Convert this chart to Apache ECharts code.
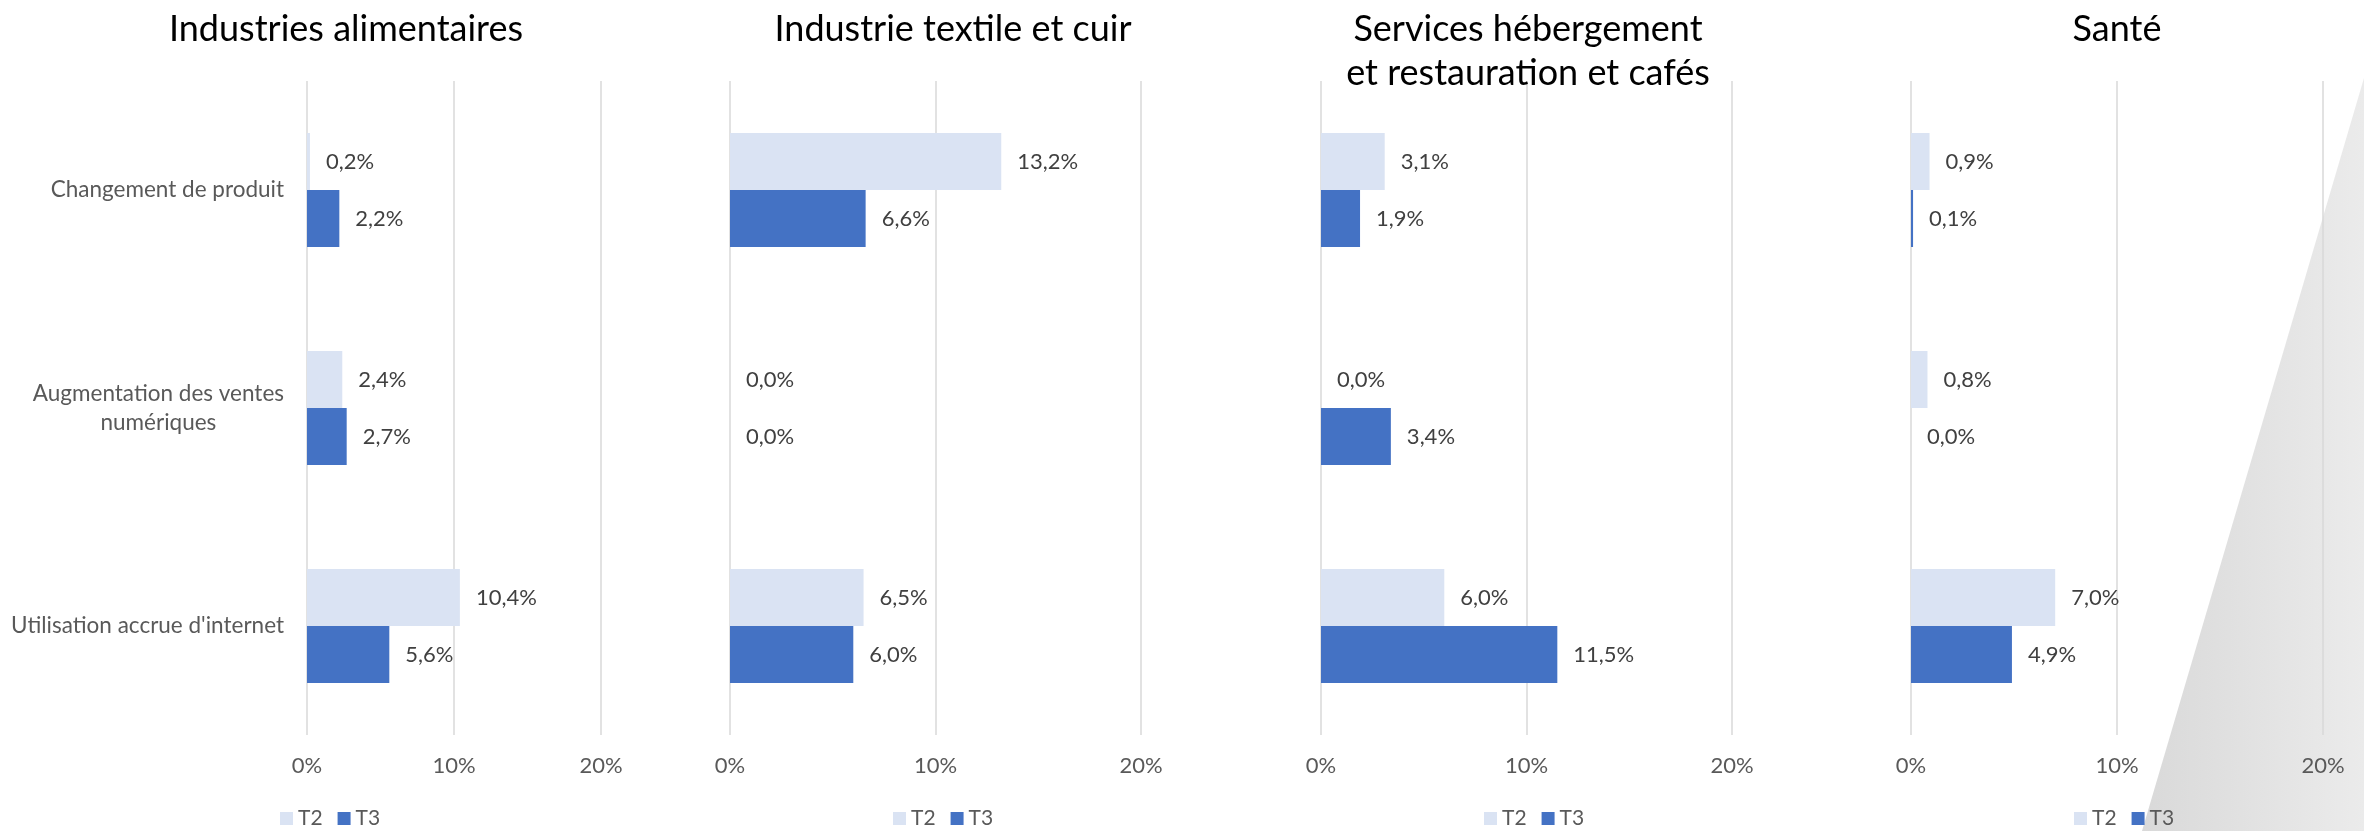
<!DOCTYPE html>
<html><head><meta charset="utf-8">
<script src="https://cdn.jsdelivr.net/npm/echarts@6/dist/echarts.min.js"></script>
<style>html,body{margin:0;padding:0;background:#fff;} #c{width:2364px;height:831px;}</style>
</head><body><div id="c"></div>
<script>
// ---- data ----
const categories = ['Changement de produit', 'Augmentation des ventes\nnumériques', "Utilisation accrue d'internet"];
const panelTitles = ['Industries alimentaires', 'Industrie textile et cuir', 'Services hébergement\net restauration et cafés', 'Santé'];
const seriesNames = ['T2', 'T3'];
const alimentairesT2 = [0.2, 2.4, 10.4];
const alimentairesT3 = [2.2, 2.7, 5.6];
const textileT2 = [13.2, 0.0, 6.5];
const textileT3 = [6.6, 0.0, 6.0];
const hebergementT2 = [3.1, 0.0, 6.0];
const hebergementT3 = [1.9, 3.4, 11.5];
const santeT2 = [0.9, 0.8, 7.0];
const santeT3 = [0.1, 0.0, 4.9];
const axisMin = 0, axisMax = 20, axisInterval = 10;

const panelData = [
  [alimentairesT2, alimentairesT3],
  [textileT2, textileT3],
  [hebergementT2, hebergementT3],
  [santeT2, santeT3]
];

// ---- layout / style ----
const FONT = 'Lato, "Open Sans", sans-serif';
const colors = ['#dae3f3', '#4472c4'];
const gridLefts = [307, 730, 1321, 1911];
const gridWidths = [294, 411, 411, 412];
const gridTop = 81, gridHeight = 654;
const titleCenters = [341, 948, 1523, 2112];
const legendLefts = [280, 893, 1484, 2074];

const fmt = v => v.toFixed(1).replace('.', ',') + '%';

const option = {
  backgroundColor: '#ffffff',
  animation: false,
  graphic: [{
    type: 'polygon', z: -10, silent: true,
    shape: { points: [[2364, 78], [2142, 831], [2364, 831]] },
    style: { fill: { type: 'linear', x: 0, y: 0, x2: 1, y2: 0,
      colorStops: [{ offset: 0, color: '#d9d9d9' }, { offset: 1, color: '#ebebeb' }] } }
  }],
  title: panelTitles.map((t, i) => ({
    text: t, left: titleCenters[i], top: 2, textAlign: 'center',
    textStyle: { fontFamily: FONT, fontSize: 36, fontWeight: 'normal', color: '#000000', lineHeight: 44 }
  })),
  legend: panelTitles.map((t, i) => ({
    data: seriesNames, left: legendLefts[i], top: 808, icon: 'rect',
    itemWidth: 13, itemHeight: 13, itemGap: 15, padding: 0,
    textStyle: { fontFamily: FONT, fontSize: 21, color: '#595959' }
  })),
  grid: panelTitles.map((t, i) => ({
    left: gridLefts[i], width: gridWidths[i], top: gridTop, height: gridHeight, containLabel: false
  })),
  xAxis: panelTitles.map((t, i) => ({
    type: 'value', gridIndex: i, min: axisMin, max: axisMax, interval: axisInterval,
    axisLine: { show: false }, axisTick: { show: false },
    splitLine: { show: true, lineStyle: { color: '#d9d9d9', width: 1.5 } },
    axisLabel: { formatter: '{value}%', fontFamily: FONT, fontSize: 22, color: '#595959', margin: 20 }
  })),
  yAxis: panelTitles.map((t, i) => ({
    type: 'category', gridIndex: i, data: categories, inverse: true,
    axisLine: { show: false }, axisTick: { show: false }, splitLine: { show: false },
    axisLabel: {
      show: i === 0, margin: 23,
      formatter: v => v.split('\n').map(s => '{c|' + s + '}').join('\n'),
      rich: { c: { align: 'center', fontFamily: FONT, fontSize: 22.5, color: '#595959', lineHeight: 29 } }
    }
  })),
  series: []
};

panelData.forEach((pair, i) => {
  pair.forEach((vals, k) => {
    option.series.push({
      type: 'bar', name: seriesNames[k], xAxisIndex: i, yAxisIndex: i,
      data: vals, barWidth: 57, barGap: '0%',
      itemStyle: { color: colors[k] },
      label: { show: true, position: 'right', distance: 16, formatter: p => fmt(p.value),
        fontFamily: FONT, fontSize: 22, color: '#404040' }
    });
  });
});

const chart = echarts.init(document.getElementById('c'), null, { renderer: 'canvas' });
chart.setOption(option);
</script>
</body></html>
